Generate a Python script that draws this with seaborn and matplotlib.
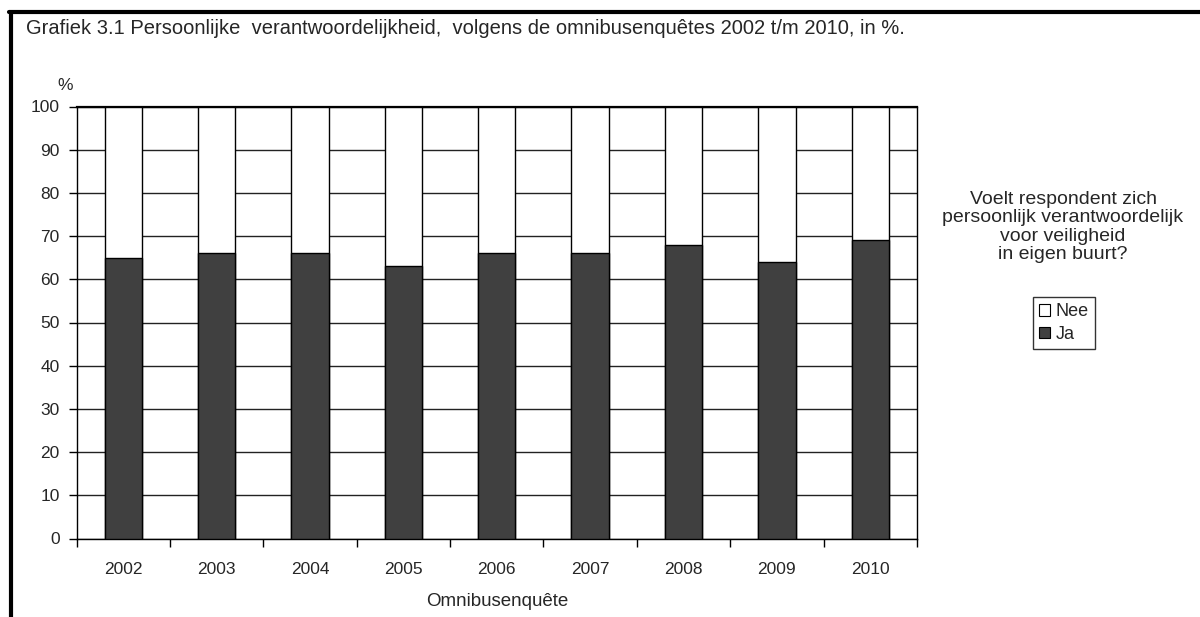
import matplotlib
matplotlib.use("Agg")
import matplotlib.pyplot as plt
import seaborn as sns
import pandas as pd
import numpy as np
from matplotlib.lines import Line2D

years = ["2002", "2003", "2004", "2005", "2006", "2007", "2008", "2009", "2010"]
ja = [65, 66, 66, 63, 66, 66, 68, 64, 69]
nee = [100 - v for v in ja]
series_labels = ["Nee", "Ja"]
yticks = list(range(0, 101, 10))

sns.set_theme(style="white")
plt.rcParams['font.family'] = ['Liberation Sans', 'DejaVu Sans']

df = pd.DataFrame({"jaar": years, "Ja": ja, "Nee": nee})
df["Totaal"] = df["Ja"] + df["Nee"]

fig = plt.figure(figsize=(12, 6.17), dpi=100)
ax = fig.add_axes([76.5/1200, 1 - 538.5/617, (917-76.5)/1200, (538.5-106.5)/617])

sns.barplot(data=df, x="jaar", y="Totaal", order=years, color="white", width=0.4,
            edgecolor="black", linewidth=1.0, ax=ax, zorder=3, saturation=1)
sns.barplot(data=df, x="jaar", y="Ja", order=years, color="#404040", width=0.4,
            edgecolor="black", linewidth=1.0, ax=ax, zorder=4, saturation=1)

ax.set_xlim(-0.5, len(years) - 0.5)
ax.set_ylim(0, 100)
ax.set_yticks(yticks)
ax.set_yticklabels([str(t) for t in yticks], fontsize=12.5)
ax.yaxis.grid(True, color="#222222", linewidth=1.0, zorder=0)
ax.set_axisbelow(True)
ax.xaxis.grid(False)

ax.set_xticks(range(len(years)))
ax.set_xticklabels(years, fontsize=12.5)
ax.set_xticks(np.arange(-0.5, len(years), 1.0), minor=True)
ax.tick_params(axis="x", which="major", length=0, pad=17)
ax.tick_params(axis="x", which="minor", length=6, width=1, color="black", direction="out", bottom=True)
ax.tick_params(axis="y", length=6, width=1, color="black", direction="out", left=True, pad=6)

for s in ax.spines.values():
    s.set_visible(True)
    s.set_color("black")
    s.set_linewidth(1.0)
ax.spines["top"].set_linewidth(1.6)

ax.set_xlabel("")
ax.set_ylabel("")

fig.text(497/1200, 1 - 602/617, "Omnibusenquête", fontsize=13.5, ha="center", va="center")
fig.text(26/1200, 1 - 29/617, "Grafiek 3.1 Persoonlijke  verantwoordelijkheid,  volgens de omnibusenquêtes 2002 t/m 2010, in %.",
         fontsize=14.5, ha="left", va="center")
fig.text(65/1200, 1 - 86/617, "%", fontsize=12.5, ha="center", va="center")

fig.text(1063/1200, 1 - 227/617,
         "Voelt respondent zich\npersoonlijk verantwoordelijk\nvoor veiligheid\nin eigen buurt?",
         fontsize=14, ha="center", va="center", linespacing=1.12)

handles = [plt.Rectangle((0, 0), 1, 1, facecolor="white", edgecolor="black", linewidth=0.8),
           plt.Rectangle((0, 0), 1, 1, facecolor="#404040", edgecolor="black", linewidth=0.8)]
leg = fig.legend(handles, series_labels, loc="center", bbox_to_anchor=(1064/1200, 1 - 323/617),
                 fontsize=13, frameon=True, fancybox=False, handlelength=0.6, handleheight=0.6,
                 handletextpad=0.3, borderpad=0.35, labelspacing=0.3, borderaxespad=0)
leg.get_frame().set_edgecolor("black")
leg.get_frame().set_linewidth(1.0)

fig.add_artist(Line2D([10.5/1200, 10.5/1200], [0, 1 - 11.5/617], transform=fig.transFigure,
                      color="black", linewidth=3))
fig.add_artist(Line2D([9/1200, 1], [1 - 11.5/617, 1 - 11.5/617], transform=fig.transFigure,
                      color="black", linewidth=3))

fig.savefig("out.png", dpi=100)
